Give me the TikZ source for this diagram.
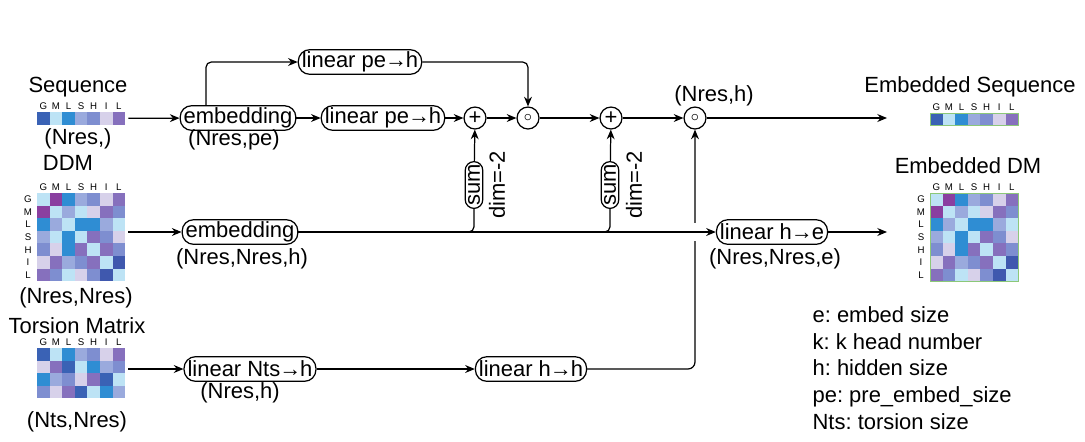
\documentclass[tikz,border=0pt]{standalone}
\usepackage{fontspec}
\setmainfont{Liberation Sans}
\usepackage{tikz}
\usetikzlibrary{arrows.meta,positioning,calc,fit}
\frenchspacing
\definecolor{dblue}{HTML}{3A62B5}
\definecolor{cyanl}{HTML}{BDE3F5}
\definecolor{mblue}{HTML}{2F8DD3}
\definecolor{lav}{HTML}{9AAADD}
\definecolor{peri}{HTML}{7E8ED0}
\definecolor{plav}{HTML}{D7D1EA}
\definecolor{purp}{HTML}{8670BD}
\definecolor{dpurp}{HTML}{8A3FA0}
\definecolor{deepb}{HTML}{3F58AE}
\definecolor{edgegreen}{HTML}{8CC878}
% tight arrow between dimension names
\newcommand{\toarr}{\kern-0.6pt→\kern-0.6pt}
% grid of coloured cells: x, y of top left corner (px), rows
\newcommand{\heatgrid}[3]{%
  \foreach \hrow [count=\r from 0] in {#3} {
    \foreach \hcol [count=\k from 0] in \hrow {
      \fill[\hcol] ({#1+\k*12.6},{#2+\r*12.6}) rectangle ++(12.6,12.6);
    }
  }}
% residue letters over the columns / beside the rows
\newcommand{\heattop}[3]{%
  \foreach \lt [count=\k from 0] in {G,M,L,S,H,I,L}
    \node[tag] (#3c\k) at ({#1+6.3+\k*12.6},#2) {\lt};}
\newcommand{\heatside}[3]{%
  \foreach \lt [count=\k from 0] in {G,M,L,S,H,I,L}
    \node[tag] (#3r\k) at (#1,{#2+6.3+\k*12.6}) {\lt};}

\begin{document}
\begin{tikzpicture}[x=0.02cm, y=-0.02cm, line width=0.7pt,
  every node/.style={font=\fontsize{12.5}{15}\selectfont},
  op/.style={draw, rounded corners=6.5pt, inner xsep=2pt, inner ysep=0pt, minimum height=14pt},
  sumop/.style={draw, rounded corners=5pt, rotate=90, inner xsep=1.5pt, inner ysep=0pt, minimum height=10pt},
  dot/.style={draw, circle, minimum size=12.5pt, inner sep=0pt},
  arr/.style={-{Stealth[length=5.5pt, width=4.5pt]}},
  tag/.style={font=\fontsize{5.5}{6}\selectfont, inner sep=0pt}]

  \useasboundingbox (0,0) rectangle (1085,441);

  % sequence input
  \node (seqt) at (78,87) {Sequence};
  \heattop{37}{106}{seq}
  \heatgrid{37}{112}{{dblue,cyanl,mblue,lav,peri,plav,purp}}
  \node[fit={(37,112) (125.2,124.6)}, inner sep=0pt] (seq) {};
  \node (seqd) at (78,139) {(Nres,)};

  % DDM input
  \node (ddmt) at (68,163) {DDM};
  \heattop{37}{187}{ddm}
  \heatside{28}{193}{ddm}
  \heatgrid{37}{193}{{cyanl,dpurp,mblue,lav,peri,plav,purp},
    {dpurp,cyanl,lav,cyanl,plav,purp,peri},
    {mblue,lav,cyanl,mblue,mblue,lav,cyanl},
    {lav,cyanl,mblue,cyanl,purp,peri,plav},
    {peri,plav,mblue,purp,cyanl,purp,peri},
    {plav,purp,lav,peri,purp,cyanl,deepb},
    {purp,peri,cyanl,plav,peri,deepb,cyanl}}
  \node[fit={(37,193) (125.2,281.2)}, inner sep=0pt] (ddm) {};
  \node (ddmd) at (76,298) {(Nres,Nres)};

  % torsion input
  \node (tort) at (77,326) {Torsion Matrix};
  \heattop{37}{342}{tor}
  \heatgrid{37}{348}{{dblue,cyanl,mblue,lav,peri,plav,purp},
    {plav,purp,dblue,cyanl,mblue,lav,peri},
    {mblue,lav,peri,plav,purp,dblue,cyanl},
    {peri,plav,purp,dblue,cyanl,mblue,lav}}
  \node[fit={(37,348) (125.2,398.4)}, inner sep=0pt] (tor) {};
  \node (tord) at (77,422) {(Nts,Nres)};

  % sequence path
  \node[op] (emb1) at (238,118) {embedding};
  \node (emb1d) at (234,140) {(Nres,pe)};
  \node[op] (lin1) at (360,62) {linear pe\toarr h};
  \node[op] (lin2) at (383,118) {linear pe\toarr h};
  \node[dot] (plus1) at (475,118) {+};
  \node[dot] (circ1) at (528,118) {$\scriptstyle\circ$};
  \node[dot] (plus2) at (611,118) {+};
  \node[dot] (circ2) at (695,118) {$\scriptstyle\circ$};
  \node (circ2d) at (714,96) {(Nres,h)};
  \coordinate (esin) at (887,118);

  % pair path
  \node[op] (emb2) at (240,232) {embedding};
  \node (emb2d) at (242,259) {(Nres,Nres,h)};
  \node[sumop] (sum1) at (474,185) {sum};
  \node[rotate=90] (dim1) at (497,185) {dim=-2};
  \node[sumop] (sum2) at (610,185) {sum};
  \node[rotate=90] (dim2) at (634,185) {dim=-2};
  \node[op] (linhe) at (772,232) {linear h\toarr e};
  \node (linhed) at (775,259) {(Nres,Nres,e)};
  \coordinate (edin) at (887,232);

  % torsion path
  \node[op] (linnts) at (250,369) {linear Nts\toarr h};
  \node (linntsd) at (240,393) {(Nres,h)};
  \node[op] (linhh) at (531,369) {linear h\toarr h};

  % outputs
  \node (eseqt) at (970,87) {Embedded Sequence};
  \heattop{930}{107}{eseq}
  \heatgrid{930}{113}{{dblue,cyanl,mblue,lav,peri,plav,purp}}
  \draw[edgegreen, line width=0.5pt] (930,113) rectangle ++(88.2,12.6);
  \node (edmt) at (968,166) {Embedded DM};
  \heattop{930}{187}{edm}
  \heatside{921}{193}{edm}
  \heatgrid{930}{193}{{cyanl,dpurp,mblue,lav,peri,plav,purp},
    {dpurp,cyanl,lav,cyanl,plav,purp,peri},
    {mblue,lav,cyanl,mblue,mblue,lav,cyanl},
    {lav,cyanl,mblue,cyanl,purp,peri,plav},
    {peri,plav,mblue,purp,cyanl,purp,peri},
    {plav,purp,lav,peri,purp,cyanl,deepb},
    {purp,peri,cyanl,plav,peri,deepb,cyanl}}
  \draw[edgegreen, line width=0.5pt] (930,193) rectangle ++(88.2,88.2);

  \node[anchor=north west, align=left, inner sep=0pt, font=\fontsize{12.5}{15.2}\selectfont] (legend) at (812,306)
    {e: embed size\\k: k head number\\h: hidden size\\pe: pre\_embed\_size\\Nts: torsion size};

  % connectors
  \draw[arr, shorten <=1.5pt] (seq) -- (emb1);
  \draw[arr] (emb1) -- (lin2);
  \draw[arr, rounded corners=3pt] ($(emb1.north)+(-32,0)$) |- (lin1);
  \draw[arr] (lin2) -- (plus1);
  \draw[arr] (plus1) -- (circ1);
  \draw[arr, rounded corners=3pt] (lin1) -| (circ1);
  \draw[arr] (circ1) -- (plus2);
  \draw[arr] (plus2) -- (circ2);
  \draw[arr] (circ2) -- (esin);

  \draw[arr, shorten <=1.5pt] (ddm.east |- emb2) -- (emb2);
  \draw[arr, shorten <=1.5pt] (tor.east |- linnts) -- (linnts);
  \draw[arr] (linnts) -- (linhh);
  \draw[arr, rounded corners=4pt] (linhh) -| (circ2);
  \coordinate (jump) at (circ2 |- emb2);
  \draw[white, line width=5pt] ($(jump)+(0,-9)$) -- ($(jump)+(0,9)$);
  \draw[arr] (emb2) -- (linhe);
  \coordinate (br1) at (sum1 |- emb2);
  \coordinate (br2) at (sum2 |- emb2);
  \draw[rounded corners=3pt] ($(br1)+(-8,0)$) -| (sum1);
  \draw[rounded corners=3pt] ($(br2)+(-8,0)$) -| (sum2);
  \draw[arr] (sum1) -- (plus1);
  \draw[arr] (sum2) -- (plus2);
  \draw[arr] (linhe) -- (edin);
\end{tikzpicture}
\end{document}
